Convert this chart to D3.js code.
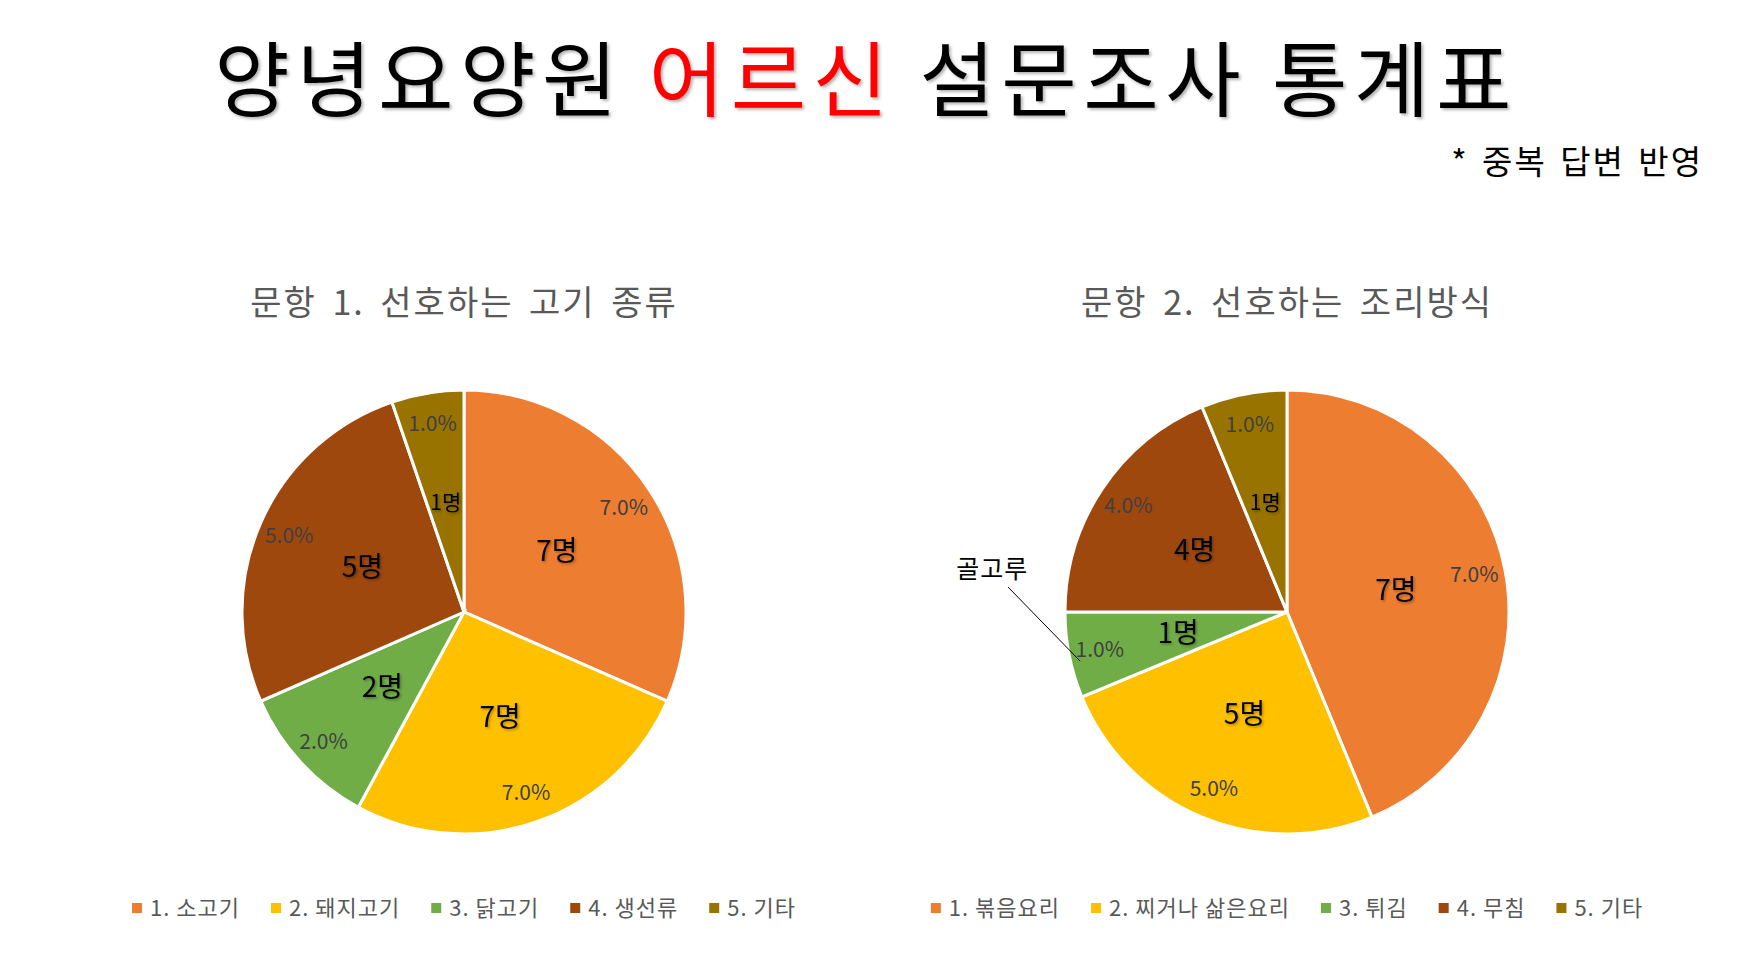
<!DOCTYPE html>
<html>
<head>
<meta charset="utf-8">
<script src="https://cdn.jsdelivr.net/npm/d3@7"></script>
<style>
  body { margin: 0; background: #fff; }
  text { font-family: "Noto Sans CJK KR", "Noto Sans", sans-serif; }
</style>
</head>
<body>
<svg id="chart" width="1744" height="971"></svg>
<script>
// chart data
const colors = ['#ED7D31', '#FFC000', '#70AD47', '#9E480E', '#997300']

const q1Title = '문항 1. 선호하는 고기 종류'
const q1Categories = ['1. 소고기', '2. 돼지고기', '3. 닭고기', '4. 생선류', '5. 기타']
const q1Values = [6, 5, 2, 5, 1]
const q1Counts = ['7명', '7명', '2명', '5명', '1명']
const q1Pcts = ['7.0%', '7.0%', '2.0%', '5.0%', '1.0%']

const q2Title = '문항 2. 선호하는 조리방식'
const q2Categories = ['1. 볶음요리', '2. 찌거나 삶은요리', '3. 튀김', '4. 무침', '5. 기타']
const q2Values = [7, 4, 1, 3, 1]
const q2Counts = ['7명', '5명', '1명', '4명', '1명']
const q2Pcts = ['7.0%', '5.0%', '1.0%', '4.0%', '1.0%']

const svg = d3.select('#chart')

const defs = svg.append('defs')
defs.append('filter')
    .attr('id', 'title-shadow')
    .attr('x', '-5%').attr('y', '-20%').attr('width', '110%').attr('height', '140%')
    .append('feDropShadow')
    .attr('dx', 2).attr('dy', 2).attr('stdDeviation', 1.5)
    .attr('flood-color', '#000').attr('flood-opacity', 0.3)

defs.append('filter')
    .attr('id', 'label-shadow')
    .attr('x', '-20%').attr('y', '-20%').attr('width', '140%').attr('height', '140%')
    .append('feDropShadow')
    .attr('dx', 1.5).attr('dy', 1.5).attr('stdDeviation', 1)
    .attr('flood-color', '#000').attr('flood-opacity', 0.3)

// main title
const title = svg.append('text')
    .attr('x', 866)
    .attr('y', 110)
    .attr('text-anchor', 'middle')
    .style('font-size', '82px')
    .style('font-weight', 400)
    .style('letter-spacing', '6.5px')
    .attr('filter', 'url(#title-shadow)')
title.append('tspan').attr('fill', '#000').text('양녕요양원 ')
title.append('tspan').attr('fill', '#FF0000').text('어르신')
title.append('tspan').attr('fill', '#000').text(' 설문조사 통계표')

svg.append('text')
    .attr('x', 1703)
    .attr('y', 174)
    .attr('text-anchor', 'end')
    .style('font-size', '33px')
    .style('letter-spacing', '2px')
    .style('word-spacing', '4px')
    .attr('fill', '#000')
    .text('* 중복 답변 반영')

function drawPie(cx, cy, radius, chartTitle, categories, values, counts, pcts) {
    const g = svg.append('g')

    g.append('text')
        .attr('x', cx)
        .attr('y', 315)
        .attr('text-anchor', 'middle')
        .attr('fill', '#595959')
        .style('font-size', '34px')
        .style('letter-spacing', '2px')
        .style('word-spacing', '6px')
        .text(chartTitle)

    const pie = d3.pie().sort(null).value(d => d)
    const arcs = pie(values)
    const arc = d3.arc().innerRadius(0).outerRadius(radius)
    const pctArc = d3.arc().innerRadius(radius * 0.86).outerRadius(radius * 0.86)
    const countArc = d3.arc().innerRadius(radius * 0.5).outerRadius(radius * 0.5)

    const slices = g.append('g').attr('transform', `translate(${cx},${cy})`)

    slices.selectAll('path')
        .data(arcs)
        .enter()
        .append('path')
        .attr('d', arc)
        .attr('fill', (d, i) => colors[i])
        .attr('stroke', '#fff')
        .attr('stroke-width', 3)

    slices.selectAll('.pct')
        .data(arcs)
        .enter()
        .append('text')
        .attr('class', 'pct')
        .attr('transform', d => `translate(${pctArc.centroid(d)})`)
        .attr('text-anchor', 'middle')
        .attr('dy', '0.35em')
        .attr('fill', '#404040')
        .style('font-size', '21px')
        .text((d, i) => pcts[i])

    slices.selectAll('.count')
        .data(arcs)
        .enter()
        .append('text')
        .attr('class', 'count')
        .attr('transform', d => `translate(${countArc.centroid(d)})`)
        .attr('text-anchor', 'middle')
        .attr('dy', '0.35em')
        .attr('fill', '#000')
        .attr('filter', 'url(#label-shadow)')
        .style('font-size', (d, i) => i == values.length - 1 ? '21px' : '28px')
        .text((d, i) => counts[i])

    // legend, centred under the pie
    const legend = g.append('g')
    const items = legend.selectAll('g')
        .data(categories)
        .enter()
        .append('g')
    items.append('rect')
        .attr('width', 10)
        .attr('height', 10)
        .attr('y', -5)
        .attr('fill', (d, i) => colors[i])
    items.append('text')
        .attr('x', 18)
        .attr('dy', '0.35em')
        .attr('fill', '#595959')
        .style('font-size', '22px')
        .style('letter-spacing', '1px')
        .text(d => d)

    let x = 0
    items.each(function () {
        const w = 18 + d3.select(this).select('text').node().getComputedTextLength()
        d3.select(this).attr('transform', `translate(${x},0)`)
        x += w + 31
    })
    const total = x - 31
    legend.attr('transform', `translate(${cx - total / 2},908)`)

    return { g, arcs }
}

const r = 222
drawPie(464, 612, r, q1Title, q1Categories, q1Values, q1Counts, q1Pcts)
const p2 = drawPie(1287, 612, r, q2Title, q2Categories, q2Values, q2Counts, q2Pcts)

// note pointing at the small green slice of the second pie
const noteArc = d3.arc().innerRadius(r * 0.95).outerRadius(r * 0.95)
const tip = noteArc.centroid(p2.arcs[2])
const tipX = 1287 + tip[0]
const tipY = 612 + tip[1] + 8
p2.g.append('line')
    .attr('x1', tipX - 72)
    .attr('y1', tipY - 74)
    .attr('x2', tipX)
    .attr('y2', tipY)
    .attr('stroke', '#000')
    .attr('stroke-width', 1)
p2.g.append('text')
    .attr('x', tipX - 88)
    .attr('y', tipY - 83)
    .attr('text-anchor', 'middle')
    .attr('fill', '#000')
    .style('font-size', '25px')
    .style('letter-spacing', '1px')
    .text('골고루')
</script>
</body>
</html>
